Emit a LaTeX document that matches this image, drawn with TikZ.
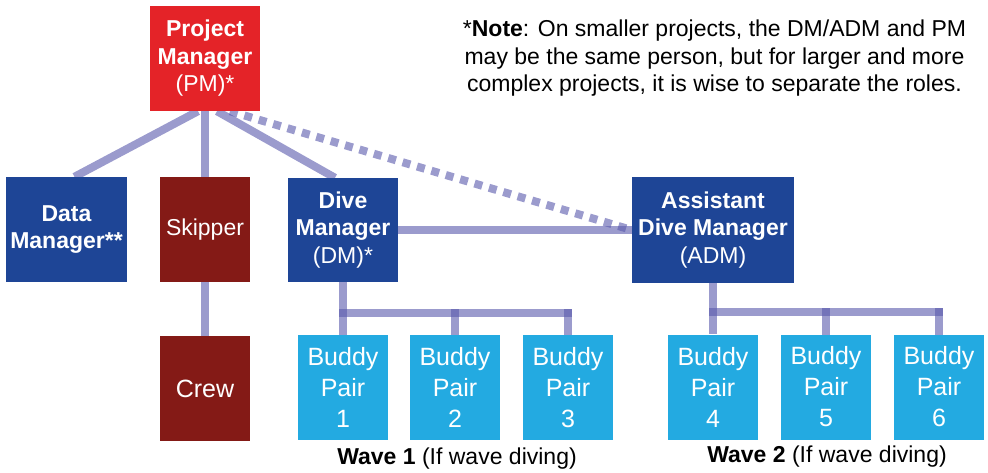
\documentclass[tikz,border=0pt]{standalone}
\usepackage{fontspec}
\setmainfont{Liberation Sans}
\usetikzlibrary{backgrounds}
\definecolor{pmred}{RGB}{228,35,40}
\definecolor{mgrblue}{RGB}{30,69,150}
\definecolor{boatred}{RGB}{132,26,22}
\definecolor{pairblue}{RGB}{35,170,225}
\definecolor{linkc}{RGB}{88,88,172}
\begin{document}
\begin{tikzpicture}[x=1pt,y=-1pt,
  box/.style={inner sep=0pt, align=center, text=white, font=\fontsize{23}{27.5}\selectfont},
  pairbox/.style={box, fill=pairblue, minimum width=90pt, minimum height=105pt, font=\fontsize{25}{31}\selectfont},
  link/.style={line width=8pt, draw=linkc, draw opacity=0.6},
  txt/.style={inner sep=0pt, align=center, font=\fontsize{23}{27.5}\selectfont}]
\useasboundingbox (0,0) rectangle (988,473);
% managers
\node[box, fill=pmred, minimum width=110pt, minimum height=105pt] (pm) at (205,58.5){\textbf{Project}\\\textbf{Manager}\\(PM)*};
\node[box, fill=mgrblue, minimum width=121pt, minimum height=105pt] (dam) at (66.5,229.5){\textbf{Data}\\\textbf{Manager**}};
\node[box, fill=boatred, minimum width=90pt, minimum height=105pt] (skip) at (205,229.5){Skipper};
\node[box, fill=boatred, minimum width=90pt, minimum height=105pt, font=\fontsize{25}{31}\selectfont] (crew) at (205,388.5){Crew};
\node[box, fill=mgrblue, minimum width=110pt, minimum height=104pt] (dm) at (343,230){\textbf{Dive}\\\textbf{Manager}\\(DM)*};
\node[box, fill=mgrblue, minimum width=162pt, minimum height=105pt] (adm) at (713,230){\textbf{Assistant}\\\textbf{Dive Manager}\\(ADM)};
% buddy pairs
\node[pairbox] (bp1) at (343,387.5){Buddy\\Pair\\1};
\node[pairbox] (bp2) at (455,387.5){Buddy\\Pair\\2};
\node[pairbox] (bp3) at (568,387.5){Buddy\\Pair\\3};
\node[pairbox] (bp4) at (713,387){Buddy\\Pair\\4};
\node[pairbox] (bp5) at (826,387){Buddy\\Pair\\5};
\node[pairbox] (bp6) at (939,387){Buddy\\Pair\\6};
\coordinate (bus1) at (343,313);
\coordinate (bus2) at (713,312);
% notes
\node[txt] (note) at (714.5,58.5){*\textbf{Note}: On smaller projects, the DM/ADM and PM\\may be the same person, but for larger and more\\complex projects, it is wise to separate the roles.};
\node[txt] (wave1) at (457,459){\textbf{Wave 1} (If wave diving)};
\node[txt] (wave2) at (827,457){\textbf{Wave 2} (If wave diving)};
\begin{scope}[on background layer]
\draw[link] ([xshift=-7pt]pm.south) -- ([xshift=8pt]dam.north);
\draw[link] (pm) -- (skip);
\draw[link] (skip) -- (crew);
\draw[link] ([xshift=12pt]pm.south) -- ([xshift=-8pt]dm.north);
\draw[link, dash pattern=on 8pt off 7pt] ([xshift=25pt]pm.south) -- (adm.west);
\draw[link] (dm.east) -- (adm.west);
% wave buses
\draw[link] (dm.south) -- (bp1.north);
\draw[link, line cap=rect] (bus1) -- (bus1 -| bp3.north);
\draw[link, line cap=rect] (bus1 -| bp2.north) -- (bp2.north);
\draw[link, line cap=rect] (bus1 -| bp3.north) -- (bp3.north);
\draw[link] (adm.south) -- (bp4.north);
\draw[link, line cap=rect] (bus2) -- (bus2 -| bp6.north);
\draw[link, line cap=rect] (bus2 -| bp5.north) -- (bp5.north);
\draw[link, line cap=rect] (bus2 -| bp6.north) -- (bp6.north);
\end{scope}
\end{tikzpicture}
\end{document}
